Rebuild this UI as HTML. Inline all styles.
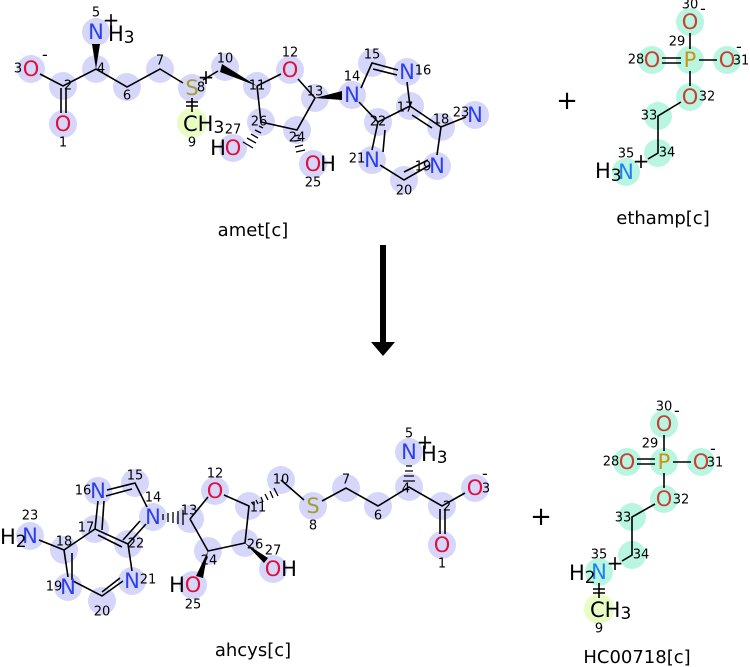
<!DOCTYPE html>
<html><head><meta charset="utf-8"><style>
html,body{margin:0;padding:0;background:#fff;}
svg{display:block;font-family:"DejaVu Sans","Liberation Sans",sans-serif;}
.b{stroke:#000;stroke-width:1.6;fill:none;}
.c{fill:#d6d6fa;}
.g{fill:#b9f6e2;}
.y{fill:#e9fcc4;}
.e{font-size:21px;text-anchor:middle;dominant-baseline:central;}
.h{font-size:21px;dominant-baseline:central;fill:#000;}
.n{font-size:13px;text-anchor:middle;dominant-baseline:central;fill:#000;}
.O{fill:#e0103a;} .N{fill:#2a40f0;} .S{fill:#a0a030;} .P{fill:#d09010;} .O2{fill:#c84030;} .N2{fill:#2080f0;}
.k{fill:#000;}
.t{font-size:18px;text-anchor:middle;fill:#000;}
.m{font-size:20px;fill:#000;text-anchor:middle;dominant-baseline:central;}
</style></head><body>
<svg width="750" height="667" viewBox="0 0 750 667">
<!-- ===== amet ===== -->
<g>
<circle class="c" cx="31" cy="69" r="14"/><circle class="c" cx="63" cy="86" r="14"/><circle class="c" cx="63" cy="124" r="14"/>
<circle class="c" cx="96" cy="69" r="14"/><circle class="c" cx="96" cy="32" r="14"/><circle class="c" cx="127" cy="87" r="14"/>
<circle class="c" cx="160" cy="69" r="14"/><circle class="c" cx="192" cy="88" r="14"/><circle class="y" cx="192" cy="123" r="15"/>
<circle class="c" cx="225" cy="67" r="14"/><circle class="c" cx="257" cy="86" r="14"/><circle class="c" cx="290" cy="70" r="14"/>
<circle class="c" cx="315" cy="98" r="14"/><circle class="c" cx="297" cy="130" r="14"/><circle class="c" cx="261" cy="122" r="14"/>
<circle class="c" cx="233" cy="148" r="14"/><circle class="c" cx="313" cy="164" r="14"/>
<circle class="c" cx="352" cy="95" r="14"/><circle class="c" cx="372" cy="63" r="14"/><circle class="c" cx="407" cy="72" r="14"/>
<circle class="c" cx="410" cy="106" r="14"/><circle class="c" cx="378" cy="122" r="14"/><circle class="c" cx="441" cy="127" r="14"/>
<circle class="c" cx="475" cy="115" r="14"/><circle class="c" cx="437" cy="166" r="14"/><circle class="c" cx="404" cy="180" r="14"/>
<circle class="c" cx="372" cy="160" r="14"/>
<path class="b" d="M40,74 L63,86 L96,69 L127,87 L160,69 L183,83 M61,88 L61,113 M66,88 L66,113 M192,98 L192,112 M186,102 L198,102 M186,106 L198,106
M257,86 L281,74 M298,79 L315,98 L297,130 L261,122 L257,86 M361,88 L372,63 L398,70 M373,69 L397,75 M407,82 L410,106 L378,122 L359,102
M410,106 L441,127 L466,117 M441,127 L437,155 M430,165 L404,180 L380,165 M372,150 L378,122 M412,115 L432,128 M428,160 L404,172 M385,130 L383,152"/>
<polygon points="96,69 92,44 100,44" fill="#000"/>
<polygon points="257,86 222,64 220,72" fill="#000"/>
<path class="b" d="M203,80 L218,71"/>
<polygon points="315,98 342,91 342,100" fill="#000"/>
<path stroke="#000" stroke-width="1.3" d="M259,126 L263,128 M255,130 L261,133 M251,134 L258,138 M247,138 L256,143 M243,142 L253,148 M299,135 L295,136 M301,140 L295,141 M303,145 L295,147 M305,150 L296,152"/>
<text class="e O" x="31" y="69">O</text><text x="42" y="60" font-size="16" class="k">-</text><text class="n" x="18" y="69">3</text>
<text class="n" x="68" y="86">2</text>
<text class="e O" x="63" y="124">O</text><text class="n" x="63" y="143">1</text>
<text class="n" x="101" y="69">4</text>
<text class="e N" x="96" y="32">N</text><text class="h" x="108" y="34">H<tspan font-size="17" dy="4">3</tspan></text><text x="111" y="20" class="m">+</text><text class="n" x="96" y="13">5</text>
<text class="n" x="127" y="96">6</text><text class="n" x="160" y="61">7</text>
<text class="e S" x="192" y="88">S</text><text class="n" x="201" y="88">8</text><text x="206" y="77" class="m">+</text>
<text class="h" x="183" y="124">CH<tspan font-size="17" dy="4">3</tspan></text><text class="n" x="192" y="143">9</text>
<text class="n" x="225" y="59">10</text><text class="n" x="257" y="86">11</text>
<text class="e O" x="290" y="70">O</text><text class="n" x="290" y="53">12</text>
<text class="n" x="315" y="92">13</text><text class="n" x="297" y="138">24</text><text class="n" x="259" y="122">26</text>
<text class="e O" x="233" y="148">O</text><text class="e k" x="218" y="148">H</text><text class="n" x="233" y="130">27</text>
<text class="e O" x="313" y="164">O</text><text class="e k" x="328" y="164">H</text><text class="n" x="313" y="183">25</text>
<text class="e N" x="352" y="95">N</text><text class="n" x="352" y="77">14</text>
<text class="n" x="372" y="55">15</text><text class="e N" x="407" y="72">N</text><text class="n" x="423" y="71">16</text>
<text class="n" x="405" y="108">17</text><text class="n" x="378" y="122">22</text><text class="n" x="441" y="120">18</text>
<text class="e N" x="475" y="115">N</text><text class="n" x="461" y="113">23</text>
<text class="e N" x="437" y="166">N</text><text class="n" x="423" y="167">19</text><text class="n" x="404" y="191">20</text>
<text class="e N" x="372" y="160">N</text><text class="n" x="357" y="159">21</text>
<text class="t" x="253" y="236">amet[c]</text>
</g>
<!-- ===== ethamp ===== -->
<g>
<circle class="g" cx="690" cy="22" r="14"/><circle class="g" cx="652" cy="60" r="14"/><circle class="g" cx="690" cy="60" r="14"/>
<circle class="g" cx="727" cy="60" r="14"/><circle class="g" cx="690" cy="97" r="14"/><circle class="g" cx="658" cy="116" r="14"/>
<circle class="g" cx="658" cy="153" r="14"/><circle class="g" cx="626" cy="172" r="14"/>
<path class="b" d="M690,33 L690,49 M662,58 L681,58 M662,63 L681,63 M699,60 L717,60 M690,71 L690,86 M681,102 L658,116 L658,153 L648,159"/>
<text class="e O2" x="690" y="22">O</text><text x="700" y="14" font-size="16" class="k">-</text><text class="n" x="690" y="5">30</text>
<text class="e O2" x="652" y="60">O</text><text class="n" x="636" y="60">28</text>
<text class="e P" x="690" y="60">P</text><text class="n" x="677" y="42">29</text>
<text class="e O2" x="727" y="60">O</text><text class="n" x="741" y="61">31</text><text x="736" y="52" font-size="16" class="k">-</text>
<text class="e O2" x="690" y="97">O</text><text class="n" x="707" y="97">32</text>
<text class="n" x="649" y="116">33</text><text class="n" x="667" y="153">34</text>
<text class="e N2" x="626" y="172">N</text><text class="h" x="595" y="171">H<tspan font-size="17" dy="5">3</tspan></text><text class="n" x="626" y="154">35</text><text x="641" y="161" class="m">+</text>
<text class="t" x="663" y="224">ethamp[c]</text>
</g>
<text x="567" y="101" font-size="26" class="k" text-anchor="middle" dominant-baseline="central">+</text>
<!-- arrow -->
<rect x="380" y="245" width="6" height="98" fill="#000"/>
<polygon points="371,342 395,342 383,356" fill="#000"/>
<!-- ===== ahcys ===== -->
<g>
<circle class="c" cx="30" cy="536" r="14"/><circle class="c" cx="64" cy="550" r="14"/><circle class="c" cx="68" cy="587" r="14"/>
<circle class="c" cx="102" cy="601" r="14"/><circle class="c" cx="132" cy="581" r="14"/><circle class="c" cx="128" cy="544" r="14"/>
<circle class="c" cx="95" cy="529" r="14"/><circle class="c" cx="98" cy="491" r="14"/><circle class="c" cx="135" cy="483" r="14"/>
<circle class="c" cx="153" cy="517" r="14"/><circle class="c" cx="190" cy="519" r="14"/><circle class="c" cx="215" cy="491" r="14"/>
<circle class="c" cx="249" cy="506" r="14"/><circle class="c" cx="281" cy="480" r="14"/><circle class="c" cx="313" cy="506" r="14"/>
<circle class="c" cx="346" cy="488" r="14"/><circle class="c" cx="378" cy="506" r="14"/><circle class="c" cx="409" cy="487" r="14"/>
<circle class="c" cx="409" cy="452" r="14"/><circle class="c" cx="442" cy="506" r="14"/><circle class="c" cx="442" cy="545" r="14"/>
<circle class="c" cx="475" cy="488" r="14"/><circle class="c" cx="208" cy="551" r="14"/><circle class="c" cx="245" cy="543" r="14"/>
<circle class="c" cx="273" cy="569" r="14"/><circle class="c" cx="193" cy="585" r="14"/>
<path class="b" d="M39,540 L64,550 L68,577 M73,581 L102,596 L123,581 M132,571 L128,544 L95,529 L64,550 M72,553 L72,580 M102,592 L120,578 M98,535 L122,547
M95,529 L98,501 M102,530 L104,501 M107,490 L135,483 L147,507 M106,496 L132,489 M128,544 L146,524 M123,540 L140,521
M190,519 L208,497 M224,495 L249,506 L245,543 L208,551 L190,519 M281,480 L304,500 M322,501 L346,488 L378,506 L409,487 L442,506 L465,493 M440,509 L440,534 M445,509 L445,534"/>
<path stroke="#000" stroke-width="1.3" d="M163,514 L163,520 M168,513 L168,522 M173,512 L173,523 M178,511 L178,524 M183,510 L183,525 M252,503 L254,505 M256,500 L258,504 M261,497 L263,502 M265,494 L268,500 M270,491 L273,498 M274,488 L278,496 M406,466 L412,466 M405,471 L413,471 M404,476 L414,476 M403,481 L415,481"/>
<polygon points="208,551 196,576 203,578" fill="#000"/>
<polygon points="245,543 264,563 268,558" fill="#000"/>
<text class="e N" x="30" y="536">N</text><text class="h" x="0" y="537">H<tspan font-size="17" dy="5">2</tspan></text><text class="n" x="30" y="516">23</text>
<text class="n" x="64" y="542">18</text><text class="e N" x="68" y="587">N</text><text class="n" x="54" y="587">19</text>
<text class="n" x="102" y="612">20</text><text class="e N" x="132" y="581">N</text><text class="n" x="148" y="580">21</text>
<text class="n" x="136" y="544">22</text><text class="n" x="86" y="528">17</text>
<text class="e N" x="98" y="491">N</text><text class="n" x="83" y="491">16</text><text class="n" x="135" y="476">15</text>
<text class="e N" x="153" y="517">N</text><text class="n" x="153" y="498">14</text>
<text class="n" x="189" y="511">13</text><text class="e O" x="215" y="491">O</text><text class="n" x="215" y="474">12</text>
<text class="n" x="258" y="508">11</text><text class="n" x="281" y="480">10</text>
<text class="e S" x="313" y="506">S</text><text class="n" x="313" y="526">8</text>
<text class="n" x="346" y="480">7</text><text class="n" x="378" y="516">6</text><text class="n" x="406" y="489">4</text>
<text class="e N" x="409" y="452">N</text><text class="h" x="421" y="454">H<tspan font-size="17" dy="4">3</tspan></text><text x="425" y="442" class="m">+</text><text class="n" x="409" y="434">5</text>
<text class="n" x="447" y="507">2</text><text class="e O" x="442" y="545">O</text><text class="n" x="442" y="564">1</text>
<text class="e O" x="475" y="488">O</text><text class="n" x="486" y="489">3</text><text x="482" y="479" font-size="16" class="k">-</text>
<text class="n" x="209" y="561">24</text><text class="n" x="255" y="545">26</text>
<text class="e O" x="273" y="569">O</text><text class="e k" x="289" y="569">H</text><text class="n" x="273" y="551">27</text>
<text class="e O" x="193" y="585">O</text><text class="e k" x="177" y="585">H</text><text class="n" x="193" y="605">25</text>
<text class="t" x="253" y="656">ahcys[c]</text>
</g>
<text x="541" y="517" font-size="26" class="k" text-anchor="middle" dominant-baseline="central">+</text>
<!-- ===== HC00718 ===== -->
<g>
<circle class="g" cx="664" cy="424" r="14"/><circle class="g" cx="627" cy="462" r="14"/><circle class="g" cx="664" cy="462" r="14"/>
<circle class="g" cx="701" cy="462" r="14"/><circle class="g" cx="664" cy="499" r="14"/><circle class="g" cx="632" cy="517" r="14"/>
<circle class="g" cx="632" cy="555" r="14"/><circle class="g" cx="599" cy="572" r="14"/><circle class="y" cx="599" cy="609" r="15"/>
<path class="b" d="M664,435 L664,451 M637,459 L655,459 M637,464 L655,464 M673,462 L691,462 M664,473 L664,488 M655,504 L632,517 L632,555 L622,561 M599,583 L599,598 M593,589 L605,589 M593,593 L605,593"/>
<text class="e O2" x="664" y="424">O</text><text x="674" y="416" font-size="16" class="k">-</text><text class="n" x="664" y="407">30</text>
<text class="e O2" x="627" y="462">O</text><text class="n" x="611" y="462">28</text>
<text class="e P" x="664" y="462">P</text><text class="n" x="650" y="444">29</text>
<text class="e O2" x="701" y="462">O</text><text class="n" x="715" y="463">31</text><text x="710" y="454" font-size="16" class="k">-</text>
<text class="e O2" x="664" y="499">O</text><text class="n" x="681" y="500">32</text>
<text class="n" x="623" y="518">33</text><text class="n" x="641" y="555">34</text>
<text class="e N2" x="599" y="572">N</text><text class="h" x="569" y="573">H<tspan font-size="17" dy="5">2</tspan></text><text class="n" x="599" y="555">35</text><text x="615" y="563" class="m">+</text>
<text class="h" x="590" y="610">CH<tspan font-size="17" dy="4">3</tspan></text><text class="n" x="599" y="629">9</text>
<text class="t" x="637" y="663">HC00718[c]</text>
</g>
</svg>
</body></html>
